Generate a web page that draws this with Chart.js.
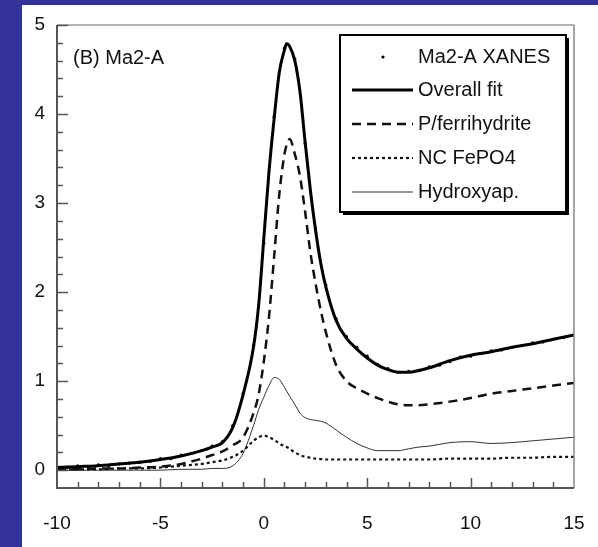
<!DOCTYPE html>
<html>
<head>
<meta charset="utf-8">
<script src="https://cdn.jsdelivr.net/npm/chart.js@4.4.0/dist/chart.umd.min.js"></script>
<style>
  html, body { margin: 0; padding: 0; background: #323298; }
  #myChart { position: absolute; left: 0; top: 0; }
</style>
</head>
<body>
<canvas id="myChart" width="598" height="547"></canvas>
<script>
// energy axis (shared by the fitted curves)
const energy = [-10, -9, -8, -7, -6, -5, -4, -3, -2.5, -2, -1.5, -1, -0.5, -0.25, 0, 0.25, 0.5, 0.75, 1, 1.1, 1.25, 1.5, 1.75, 2, 2.25, 2.5, 2.75, 3, 3.5, 4, 4.5, 5, 5.5, 6, 6.5, 7, 7.5, 8, 9, 10, 11, 12, 13, 14, 15];

const overallFit = [0.03, 0.04, 0.05, 0.07, 0.09, 0.12, 0.16, 0.22, 0.26, 0.31, 0.48, 0.85, 1.38, 1.85, 2.6, 3.35, 3.95, 4.47, 4.72, 4.79, 4.76, 4.6, 4.25, 3.68, 3.15, 2.7, 2.33, 2.06, 1.68, 1.48, 1.36, 1.26, 1.18, 1.13, 1.1, 1.1, 1.12, 1.15, 1.23, 1.29, 1.33, 1.38, 1.42, 1.47, 1.52];
const pFerrihydrite = [0.01, 0.01, 0.02, 0.02, 0.03, 0.04, 0.07, 0.13, 0.17, 0.21, 0.28, 0.37, 0.64, 0.85, 1.22, 1.72, 2.4, 3.1, 3.55, 3.65, 3.72, 3.55, 3.3, 2.9, 2.45, 2.1, 1.8, 1.55, 1.18, 1.0, 0.92, 0.86, 0.81, 0.77, 0.74, 0.73, 0.73, 0.74, 0.77, 0.81, 0.86, 0.89, 0.92, 0.95, 0.98];
const ncFePO4 = [0.01, 0.01, 0.01, 0.02, 0.02, 0.03, 0.05, 0.07, 0.09, 0.11, 0.15, 0.22, 0.33, 0.37, 0.39, 0.37, 0.34, 0.3, 0.27, 0.26, 0.24, 0.2, 0.17, 0.15, 0.14, 0.13, 0.125, 0.12, 0.12, 0.12, 0.12, 0.12, 0.12, 0.12, 0.12, 0.12, 0.12, 0.12, 0.13, 0.13, 0.13, 0.14, 0.14, 0.15, 0.15];
const hydroxyap = [0.0, 0.0, 0.0, 0.0, 0.0, 0.0, 0.01, 0.01, 0.02, 0.02, 0.05, 0.19, 0.5, 0.68, 0.82, 0.95, 1.04, 1.02, 0.93, 0.89, 0.83, 0.74, 0.64, 0.59, 0.57, 0.56, 0.55, 0.53, 0.45, 0.37, 0.3, 0.25, 0.22, 0.22, 0.22, 0.24, 0.26, 0.27, 0.31, 0.32, 0.3, 0.31, 0.33, 0.35, 0.37];

// measured XANES points
const xanesX = [-10, -9.5, -9, -8.5, -8, -7.5, -7, -6.5, -6, -5.5, -5, -4.5, -4, -3.5, -3, -2.5, -2, -1.5, -1, -0.5, 0, 0.5, 1, 1.5, 2, 2.5, 3, 3.5, 4, 4.5, 5, 5.5, 6, 6.5, 7, 7.5, 8, 8.5, 9, 9.5, 10, 10.5, 11, 11.5, 12, 12.5, 13, 13.5, 14, 14.5, 15];
const xanesY = [0.04, 0.03, 0.05, 0.04, 0.06, 0.05, 0.07, 0.08, 0.09, 0.1, 0.13, 0.13, 0.17, 0.19, 0.22, 0.27, 0.32, 0.5, 0.86, 1.4, 2.55, 3.97, 4.74, 4.62, 3.67, 2.72, 2.08, 1.7, 1.5, 1.38, 1.28, 1.19, 1.14, 1.1, 1.11, 1.12, 1.16, 1.18, 1.22, 1.27, 1.28, 1.31, 1.34, 1.35, 1.38, 1.4, 1.43, 1.44, 1.47, 1.49, 1.52];

const xTicks = [-10, -5, 0, 5, 10, 15];
const yTicks = [0, 1, 2, 3, 4, 5];

const seriesLabels = ["Ma2-A XANES", "Overall fit", "P/ferrihydrite", "NC FePO4", "Hydroxyap."];
const panelTitle = "(B) Ma2-A";

const FONT = "'Liberation Sans', Arial, sans-serif";

const toPoints = (xs, ys) => xs.map((x, i) => ({ x: x, y: ys[i] }));

// blue slide + white figure panel
const backgroundPlugin = {
  id: "background",
  beforeDraw(chart) {
    const c = chart.ctx;
    c.save();
    c.fillStyle = "#323298";
    c.fillRect(0, 0, chart.width, chart.height);
    c.fillStyle = "#ffffff";
    c.fillRect(22, 5, chart.width - 22, chart.height - 5);
    c.restore();
  },
};

// frame, inward ticks, panel label and boxed legend
const decorPlugin = {
  id: "decor",
  afterDraw(chart) {
    const c = chart.ctx;
    const a = chart.chartArea;
    const xs = chart.scales.x;
    const ys = chart.scales.y;
    c.save();

    // frame
    c.lineWidth = 1.5;
    c.strokeStyle = "#999";
    c.beginPath();
    c.moveTo(a.left, a.top);
    c.lineTo(a.right, a.top);
    c.stroke();
    c.strokeStyle = "#888";
    c.beginPath();
    c.moveTo(a.right, a.top);
    c.lineTo(a.right, a.bottom);
    c.stroke();
    c.lineWidth = 2;
    c.strokeStyle = "#555";
    c.beginPath();
    c.moveTo(a.left, a.top);
    c.lineTo(a.left, a.bottom);
    c.lineTo(a.right, a.bottom);
    c.stroke();

    // inward ticks
    c.lineWidth = 1.5;
    c.strokeStyle = "#555";
    for (let v = 0; v <= 5.001; v += 0.2) {
      const y = Math.round(ys.getPixelForValue(v)) + 0.5;
      const major = Math.abs(v - Math.round(v)) < 0.01;
      c.beginPath();
      c.moveTo(a.left, y);
      c.lineTo(a.left + (major ? 11 : 6), y);
      c.stroke();
    }
    for (let v = -9; v <= 14; v += 1) {
      const x = Math.round(xs.getPixelForValue(v)) + 0.5;
      const major = v % 5 === 0;
      c.beginPath();
      c.moveTo(x, a.bottom);
      c.lineTo(x, a.bottom - (major ? 10 : 6));
      c.stroke();
    }

    // panel label
    c.fillStyle = "#111";
    c.font = "20px " + FONT;
    c.textBaseline = "middle";
    c.textAlign = "left";
    c.fillText(panelTitle, 73, 58);

    // legend box with shadow
    const bx = 340, by = 35, bw = 226, bh = 177;
    c.fillStyle = "#000";
    c.fillRect(bx + 3, by + 3, bw, bh);
    c.fillStyle = "#fff";
    c.fillRect(bx, by, bw, bh);
    c.lineWidth = 2;
    c.strokeStyle = "#000";
    c.strokeRect(bx, by, bw, bh);

    const rows = [57, 90, 124, 158, 192];
    const ds = chart.data.datasets;
    rows.forEach((ry, i) => {
      const d = ds[i];
      if (i === 0) {
        c.fillStyle = "#000";
        c.beginPath();
        c.arc(383, ry, 1.6, 0, Math.PI * 2);
        c.fill();
      } else {
        c.strokeStyle = d.borderColor;
        c.lineWidth = d.borderWidth;
        c.setLineDash(d.borderDash || []);
        c.beginPath();
        c.moveTo(352, ry);
        c.lineTo(413, ry);
        c.stroke();
        c.setLineDash([]);
      }
      c.fillStyle = "#111";
      c.font = "20px " + FONT;
      c.fillText(seriesLabels[i], 418, ry);
    });

    c.restore();
  },
};

const ctx = document.getElementById("myChart").getContext("2d");
const chart = new Chart(ctx, {
  type: "line",
  data: {
    datasets: [
      {
        label: seriesLabels[0],
        data: toPoints(xanesX, xanesY),
        showLine: false,
        pointRadius: 1.6,
        pointBackgroundColor: "#000",
        pointBorderWidth: 0,
        borderColor: "#000",
        order: 0,
      },
      {
        label: seriesLabels[1],
        data: toPoints(energy, overallFit),
        borderColor: "#000",
        borderWidth: 3,
        pointRadius: 0,
        cubicInterpolationMode: "monotone",
      },
      {
        label: seriesLabels[2],
        data: toPoints(energy, pFerrihydrite),
        borderColor: "#111",
        borderWidth: 2.5,
        borderDash: [9, 6],
        pointRadius: 0,
        cubicInterpolationMode: "monotone",
      },
      {
        label: seriesLabels[3],
        data: toPoints(energy, ncFePO4),
        borderColor: "#111",
        borderWidth: 2.2,
        borderDash: [3, 3],
        pointRadius: 0,
        cubicInterpolationMode: "monotone",
      },
      {
        label: seriesLabels[4],
        data: toPoints(energy, hydroxyap),
        borderColor: "#333",
        borderWidth: 1,
        pointRadius: 0,
        cubicInterpolationMode: "monotone",
      },
    ],
  },
  options: {
    responsive: false,
    animation: false,
    layout: { padding: { left: 0, top: 25, right: 24, bottom: 0 } },
    plugins: {
      legend: { display: false },
      tooltip: { enabled: false },
    },
    scales: {
      x: {
        type: "linear",
        min: -10,
        max: 15,
        afterBuildTicks: (s) => {
          s.ticks = xTicks.map((v) => ({ value: v }));
        },
        afterFit: (s) => {
          s.height = 59;
        },
        grid: { display: false, drawTicks: false },
        border: { display: false },
        ticks: {
          color: "#111",
          // tall line box pushes the labels down without widening the right padding
          font: { family: FONT, size: 19, lineHeight: 3.72 },
          padding: 0,
          maxRotation: 0,
        },
      },
      y: {
        type: "linear",
        min: -0.2,
        max: 5,
        afterBuildTicks: (s) => {
          s.ticks = yTicks.map((v) => ({ value: v }));
        },
        afterFit: (s) => {
          s.width = 57;
        },
        grid: { display: false, drawTicks: false },
        border: { display: false },
        ticks: {
          color: "#111",
          font: { family: FONT, size: 19 },
          padding: 12,
        },
      },
    },
  },
  plugins: [backgroundPlugin, decorPlugin],
});
</script>
</body>
</html>
